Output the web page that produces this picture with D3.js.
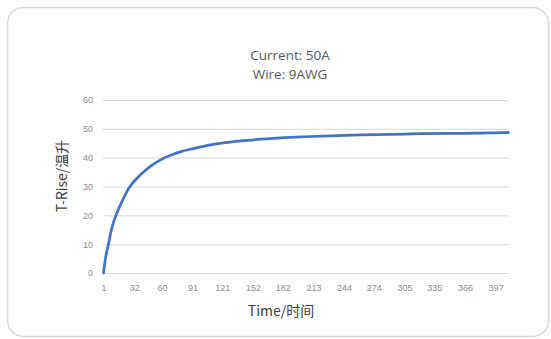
<!DOCTYPE html>
<html>
<head>
<meta charset="utf-8">
<script src="https://cdn.jsdelivr.net/npm/d3@7"></script>
<style>
  html, body { margin: 0; padding: 0; background: #fff; }
  svg { display: block; }
</style>
</head>
<body>
<svg id="chart" width="551" height="339"></svg>
<script>
// ---- data ----
const titleLines = ["Current: 50A", "Wire: 9AWG"];
const xTitle = "Time/时间";
const yTitle = "T-Rise/温升";
const xTickLabels = [1, 32, 60, 91, 121, 152, 182, 213, 244, 274, 305, 335, 366, 397];
const yTickLabels = [0, 10, 20, 30, 40, 50, 60];
const times = [1, 3, 6, 9, 12, 16, 20, 25, 30, 36, 42, 50, 60, 70, 80, 90, 105, 120, 140, 160, 180, 200, 230, 260, 290, 320, 350, 380, 395, 410];
const tRise = [0, 5, 10, 15, 18.5, 22, 25, 28.5, 31, 33.3, 35.2, 37.4, 39.5, 41, 42.2, 43, 44.2, 45, 45.8, 46.4, 46.9, 47.2, 47.6, 47.9, 48.1, 48.3, 48.4, 48.5, 48.6, 48.7];
const categoryCount = 410;

// ---- layout ----
const svg = d3.select("#chart");
const W = 551, H = 339;
const plot = { left: 103, right: 509, top: 100, bottom: 273 };

// chart frame
svg.append("rect")
  .attr("x", 7.5).attr("y", 7.5)
  .attr("width", W - 10).attr("height", H - 10)
  .attr("rx", 16).attr("ry", 16)
  .attr("fill", "#fff")
  .attr("stroke", "#d9d9d9").attr("stroke-width", 1.5);

const x = d3.scaleLinear().domain([0.5, categoryCount + 0.5]).range([plot.left, plot.right]);
const y = d3.scaleLinear().domain([0, 60]).range([plot.bottom, plot.top]);

// gridlines + y labels
const yAxis = d3.axisLeft(y).tickValues(yTickLabels).tickSize(-(plot.right - plot.left)).tickPadding(10);
const gy = svg.append("g").attr("transform", `translate(${plot.left},0)`).call(yAxis);
gy.select(".domain").remove();
gy.selectAll(".tick line").attr("stroke", "#d9d9d9").attr("stroke-width", 1);
gy.selectAll(".tick text")
  .attr("fill", "#8c8c8c")
  .style("font-family", "'Liberation Sans', Arial, sans-serif")
  .style("font-size", "9px");

// x labels
const xAxis = d3.axisBottom(x).tickValues(xTickLabels).tickSize(0).tickPadding(12);
const gx = svg.append("g").attr("transform", `translate(0,${plot.bottom})`).call(xAxis);
gx.select(".domain").remove();
gx.selectAll(".tick text")
  .attr("fill", "#8c8c8c")
  .style("font-family", "'Liberation Sans', Arial, sans-serif")
  .style("font-size", "9px");

// line
const pts = times.map((t, i) => [t, tRise[i]]);
svg.append("path")
  .datum(pts)
  .attr("fill", "none")
  .attr("stroke", "#4472c4")
  .attr("stroke-width", 2.75)
  .attr("stroke-linejoin", "round")
  .attr("stroke-linecap", "round")
  .attr("d", d3.line().x(d => x(d[0])).y(d => y(d[1])).curve(d3.curveMonotoneX));

// title
svg.append("text")
  .attr("x", 290).attr("y", 60)
  .attr("text-anchor", "middle")
  .attr("fill", "#595959")
  .style("font-family", "'Open Sans', 'Noto Sans', sans-serif")
  .style("font-size", "13.5px")
  .selectAll("tspan").data(titleLines).join("tspan")
  .attr("x", 290).attr("dy", (d, i) => i === 0 ? 0 : 19)
  .text(d => d);

// axis titles
svg.append("text")
  .attr("x", 281).attr("y", 316)
  .attr("text-anchor", "middle")
  .attr("fill", "#404040")
  .style("font-family", "'Noto Sans CJK SC', 'Noto Sans', sans-serif")
  .style("font-size", "14px")
  .text(xTitle);

svg.append("text")
  .attr("transform", "translate(67,176) rotate(-90)")
  .attr("text-anchor", "middle")
  .attr("fill", "#404040")
  .style("font-family", "'Noto Sans CJK SC', 'Noto Sans', sans-serif")
  .style("font-size", "14px")
  .text(yTitle);
</script>
</body>
</html>
